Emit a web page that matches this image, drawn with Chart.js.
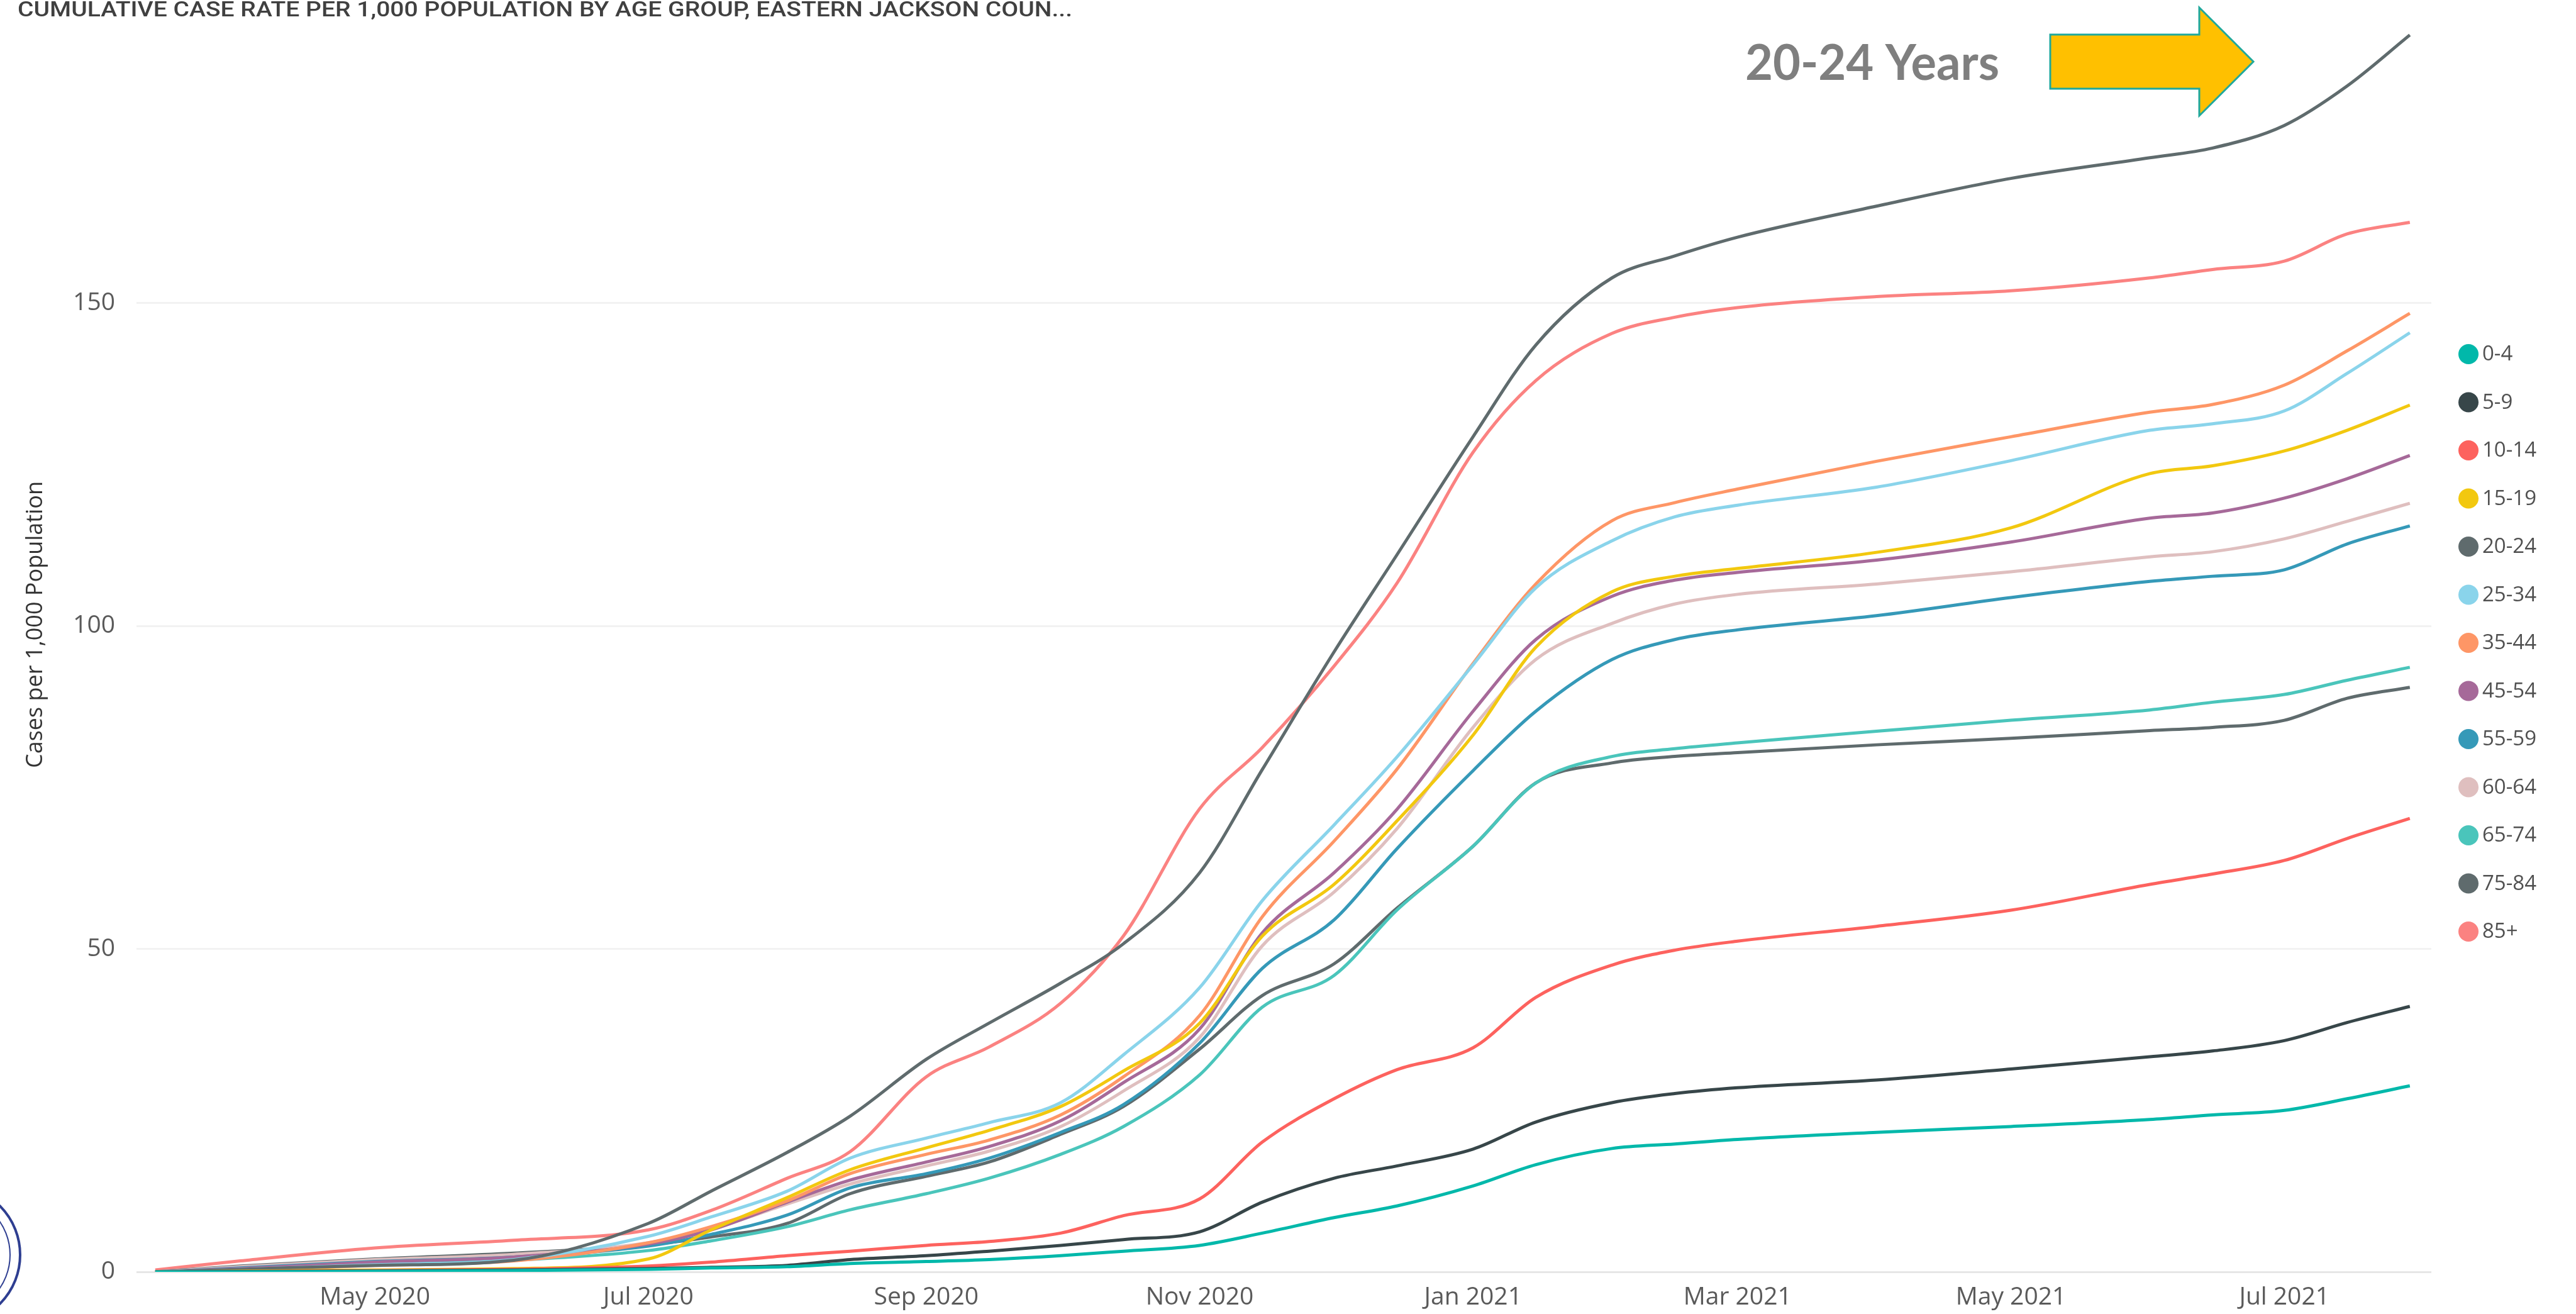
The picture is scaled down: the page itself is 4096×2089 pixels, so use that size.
<!DOCTYPE html>
<html>
<head>
<meta charset="utf-8">
<title>Cumulative case rate per 1,000 population by age group</title>
<script src="https://cdn.jsdelivr.net/npm/chart.js@4.4.1/dist/chart.umd.min.js"></script>
<style>
  html, body { margin: 0; padding: 0; background: #fff; }
</style>
</head>
<body>
<canvas id="myChart" width="4096" height="2089"></canvas>
<script>
// sample dates
const dates = ['2020-03-13', '2020-04-01', '2020-05-01', '2020-06-01', '2020-07-01', '2020-07-15', '2020-08-01',
  '2020-08-15', '2020-09-01', '2020-09-15', '2020-10-01', '2020-10-15', '2020-11-01', '2020-11-15',
  '2020-12-01', '2020-12-15', '2021-01-01', '2021-01-15', '2021-02-01', '2021-02-15', '2021-03-01',
  '2021-04-01', '2021-05-01', '2021-06-01', '2021-06-15', '2021-07-01', '2021-07-15', '2021-07-29'];

const ageGroups = ['0-4', '5-9', '10-14', '15-19', '20-24', '25-34', '35-44', '45-54', '55-59', '60-64', '65-74', '75-84', '85+'];
const colors = ['#01B8AA', '#374649', '#FD625E', '#F2C80F', '#5F6B6D', '#8AD4EB', '#FE9666', '#A66999', '#3599B8', '#DFBFBF', '#4AC5BB', '#5F6B6D', '#FB8281'];

const age0to4   = [0, 0, 0.1, 0.2, 0.4, 0.6, 0.8, 1.3, 1.6, 1.9, 2.5, 3.2, 4.1, 6.0, 8.4, 10.2, 13.3, 16.6, 19.1, 19.8, 20.5, 21.6, 22.5, 23.6, 24.3, 25.0, 26.8, 28.8];
const age5to9   = [0, 0.05, 0.15, 0.3, 0.5, 0.7, 1.0, 1.9, 2.5, 3.2, 4.1, 5.0, 6.2, 10.8, 14.5, 16.4, 19.0, 23.2, 26.2, 27.6, 28.5, 29.7, 31.4, 33.3, 34.2, 35.8, 38.6, 41.1];
const age10to14 = [0, 0.05, 0.2, 0.4, 0.9, 1.5, 2.5, 3.2, 4.1, 4.7, 6.0, 8.7, 11.3, 20.1, 26.8, 31.3, 34.7, 42.5, 47.5, 49.8, 51.2, 53.5, 56.0, 60.0, 61.6, 63.7, 67.1, 70.2];
const age15to19 = [0, 0.1, 0.3, 0.5, 2.0, 6.5, 11.5, 15.8, 19.2, 21.9, 25.6, 31.1, 38.5, 52.0, 60.0, 69.8, 83.1, 96.7, 105.3, 107.7, 108.9, 111.4, 115.2, 123.6, 124.8, 127.1, 130.3, 134.2];
const age20to24 = [0, 0.4, 1.0, 1.8, 7.5, 12.5, 18.5, 24.1, 32.9, 38.5, 44.7, 50.8, 61.8, 77.8, 96.0, 111.0, 129.3, 143.5, 153.9, 157.3, 160.2, 165.0, 169.3, 172.5, 174.0, 177.5, 183.6, 191.5];
const age25to34 = [0, 0.4, 1.1, 1.9, 5.5, 8.5, 12.5, 17.6, 20.7, 23.1, 26.2, 33.6, 44.0, 57.5, 69.2, 79.7, 94.0, 105.9, 113.2, 116.9, 118.7, 121.5, 125.6, 130.3, 131.3, 133.3, 139.1, 145.4];
const age35to44 = [0, 0.3, 1.0, 1.7, 4.5, 7.0, 11.0, 15.2, 18.2, 20.4, 24.3, 30.2, 39.7, 55.0, 66.7, 77.8, 94.2, 106.5, 116.3, 119.1, 121.2, 125.5, 129.3, 133.1, 134.3, 137.3, 142.6, 148.4];
const age45to54 = [0, 0.5, 1.5, 2.3, 4.3, 6.5, 10.8, 14.2, 17.0, 19.4, 23.4, 29.3, 37.6, 52.5, 61.8, 71.6, 86.8, 97.9, 104.6, 107.1, 108.3, 110.2, 113.0, 116.7, 117.5, 119.8, 122.8, 126.4];
const age55to59 = [0, 0.6, 1.6, 2.3, 4.0, 5.8, 8.8, 13.0, 15.2, 17.6, 21.6, 25.9, 35.4, 47.0, 54.5, 65.5, 77.6, 86.8, 94.8, 97.9, 99.4, 101.6, 104.4, 106.9, 107.7, 108.7, 112.7, 115.5];
const age60to64 = [0, 0.8, 1.9, 2.7, 4.5, 6.6, 10.5, 13.6, 16.4, 18.7, 22.5, 28.0, 36.3, 50.5, 58.8, 68.6, 84.3, 94.8, 100.4, 103.4, 104.9, 106.5, 108.4, 110.7, 111.5, 113.5, 116.2, 119.0];
const age65to74 = [0, 0.6, 1.2, 1.8, 3.3, 4.8, 7.0, 9.6, 12.1, 14.5, 18.2, 22.5, 30.5, 41.0, 45.9, 56.0, 65.9, 75.7, 79.8, 81.0, 81.9, 83.7, 85.4, 87.0, 88.2, 89.4, 91.6, 93.6];
const age75to84 = [0, 0.9, 2.0, 2.9, 4.2, 5.4, 7.5, 12.1, 14.8, 17.0, 21.3, 25.6, 34.5, 42.8, 47.7, 56.3, 65.9, 75.7, 78.8, 79.8, 80.4, 81.6, 82.6, 83.8, 84.3, 85.4, 88.8, 90.5];
const age85plus = [0.3, 1.7, 3.7, 4.9, 6.5, 9.5, 14.5, 18.6, 30.2, 34.8, 41.6, 52.0, 71.7, 81.2, 93.8, 106.6, 126.9, 138.0, 145.3, 147.8, 149.3, 151.0, 151.9, 153.9, 155.2, 156.5, 160.7, 162.5];

const seriesValues = [age0to4, age5to9, age10to14, age15to19, age20to24, age25to34, age35to44,
  age45to54, age55to59, age60to64, age65to74, age75to84, age85plus];

const tickDates = ['2020-05-01', '2020-07-01', '2020-09-01', '2020-11-01', '2021-01-01', '2021-03-01', '2021-05-01', '2021-07-01'];
const tickLabels = ['May 2020', 'Jul 2020', 'Sep 2020', 'Nov 2020', 'Jan 2021', 'Mar 2021', 'May 2021', 'Jul 2021'];
const yTicks = [0, 50, 100, 150];

const chartTitle = 'CUMULATIVE CASE RATE PER 1,000 POPULATION BY AGE GROUP, EASTERN JACKSON COUN...';
const yTitle = 'Cases per 1,000 Population';
const calloutText = '20-24 Years';

// days since 2020-01-01
const dayNum = (s) => {
  const [y, m, d] = s.split('-').map(Number);
  return (Date.UTC(y, m - 1, d) - Date.UTC(2020, 0, 1)) / 864e5;
};

const tickFont = { family: '"Open Sans", "Segoe UI", sans-serif', size: 39 };

// keep the plot box where it is: no extra room for half tick labels
const noLabelPadding = (scale) => {
  scale.paddingTop = 0;
  scale.paddingBottom = 0;
  scale.paddingLeft = 0;
  scale.paddingRight = 0;
};

// title, axis title, callout arrow, legend and seal
const decorations = {
  id: 'decorations',
  afterDraw(chart) {
    const ctx = chart.ctx;
    ctx.save();

    // report title (truncated like the original)
    ctx.font = '500 33px Roboto, sans-serif';
    ctx.fillStyle = '#404040';
    ctx.textBaseline = 'alphabetic';
    const tw = ctx.measureText(chartTitle).width;
    ctx.save();
    ctx.translate(28, 26);
    ctx.scale(1677 / tw, 1);
    ctx.fillText(chartTitle, 0, 0);
    ctx.restore();

    // y axis title
    ctx.save();
    ctx.translate(57, 993);
    ctx.rotate(-Math.PI / 2);
    ctx.font = '36px "Open Sans", sans-serif';
    ctx.fillStyle = '#333333';
    ctx.textAlign = 'center';
    ctx.textBaseline = 'middle';
    ctx.fillText(yTitle, 0, 0);
    ctx.restore();

    // "20-24 Years" callout
    ctx.font = 'bold 78px Lato, sans-serif';
    ctx.fillStyle = '#7F7F7F';
    const cw = ctx.measureText(calloutText).width;
    ctx.save();
    ctx.translate(2775, 127);
    ctx.scale(404 / cw, 1);
    ctx.fillText(calloutText, 0, 0);
    ctx.restore();

    // arrow
    ctx.beginPath();
    ctx.moveTo(3260, 55);
    ctx.lineTo(3497, 55);
    ctx.lineTo(3497, 12);
    ctx.lineTo(3583, 98);
    ctx.lineTo(3497, 184);
    ctx.lineTo(3497, 141);
    ctx.lineTo(3260, 141);
    ctx.closePath();
    ctx.fillStyle = '#FFC000';
    ctx.fill();
    ctx.lineWidth = 3;
    ctx.strokeStyle = '#1FA89C';
    ctx.stroke();

    // legend
    ctx.font = '33px "Open Sans", sans-serif';
    ctx.textBaseline = 'middle';
    ctx.textAlign = 'left';
    ageGroups.forEach((g, i) => {
      const cy = 563 + i * 76.5;
      ctx.beginPath();
      ctx.arc(3925, cy, 16, 0, Math.PI * 2);
      ctx.fillStyle = colors[i];
      ctx.fill();
      ctx.fillStyle = '#505050';
      ctx.fillText(g, 3947, cy + 1);
    });

    // county seal, cut off at the left edge
    ctx.strokeStyle = '#2E3E91';
    ctx.lineWidth = 4;
    ctx.beginPath();
    ctx.arc(-78, 1995, 110, 0, Math.PI * 2);
    ctx.stroke();
    ctx.lineWidth = 2;
    ctx.beginPath();
    ctx.arc(-78, 1995, 94, 0, Math.PI * 2);
    ctx.stroke();

    ctx.restore();
  }
};

const ctx = document.getElementById('myChart');
new Chart(ctx, {
  type: 'line',
  data: {
    datasets: ageGroups.map((g, i) => ({
      label: g,
      data: dates.map((d, j) => ({ x: dayNum(d), y: seriesValues[i][j] })),
      borderColor: colors[i],
      backgroundColor: colors[i],
      fill: false,
    })),
  },
  options: {
    responsive: false,
    animation: false,
    devicePixelRatio: 1,
    layout: { padding: { top: 30, right: 230, left: 0, bottom: 0 } },
    elements: {
      point: { radius: 0 },
      line: { borderWidth: 5, cubicInterpolationMode: 'monotone' },
    },
    plugins: {
      legend: { display: false },
      tooltip: { enabled: false },
    },
    scales: {
      x: {
        type: 'linear',
        min: dayNum('2020-05-01') - 53.2,
        max: dayNum('2020-05-01') + 458.8,
        grid: { display: false },
        border: { display: false },
        afterBuildTicks: (scale) => {
          scale.ticks = tickDates.map((d) => ({ value: dayNum(d) }));
        },
        afterFit: (scale) => { scale.height = 67; noLabelPadding(scale); },
        ticks: {
          autoSkip: false,
          maxRotation: 0,
          padding: 9,
          color: '#5A5A5A',
          font: tickFont,
          callback: (v, i) => tickLabels[i],
        },
      },
      y: {
        min: 0,
        max: 194,
        afterBuildTicks: (scale) => {
          scale.ticks = yTicks.map((v) => ({ value: v }));
        },
        afterFit: (scale) => { scale.width = 217; noLabelPadding(scale); },
        grid: {
          drawTicks: false,
          lineWidth: 3,
          color: (c) => (c.tick && c.tick.value === 0 ? '#E6E6E6' : '#F2F2F2'),
        },
        border: { display: false },
        ticks: { padding: 34, color: '#5A5A5A', font: tickFont },
      },
    },
  },
  plugins: [decorations],
});
</script>
</body>
</html>
